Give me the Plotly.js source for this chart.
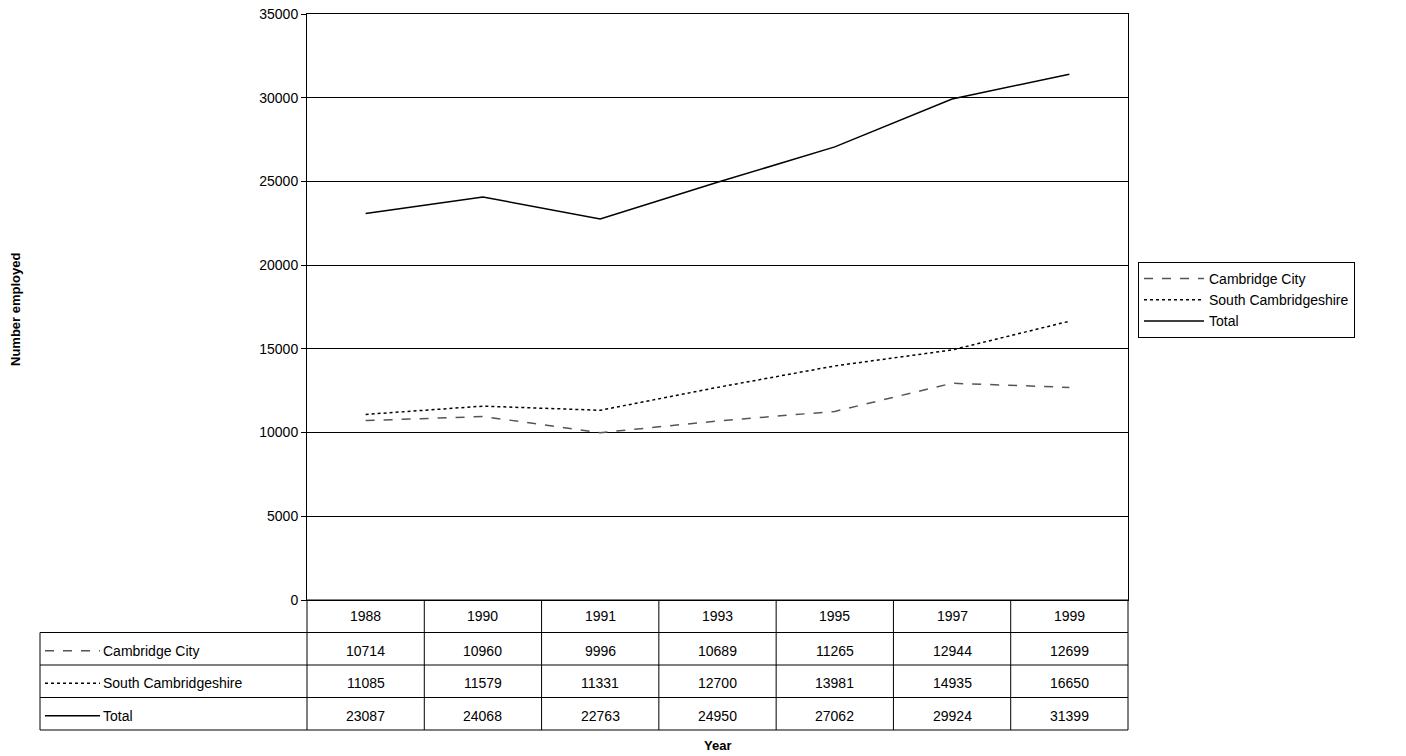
<!DOCTYPE html>
<html><head><script src="https://cdn.plot.ly/plotly-3.0.1.min.js"></script>
<style>body{margin:0;background:#fff}</style></head>
<body><div id="c" style="width:1406px;height:756px"></div>
<script>
const years = ["1988","1990","1991","1993","1995","1997","1999"];
const cambridgeCity = [10714,10960,9996,10689,11265,12944,12699];
const southCambs = [11085,11579,11331,12700,13981,14935,16650];
const total = [23087,24068,22763,24950,27062,29924,31399];
const seriesNames = ["Cambridge City","South Cambridgeshire","Total"];
const seriesVals = [cambridgeCity, southCambs, total];
const dashes = ["dash","dot","solid"];
const colors = ["#555555","#000000","#000000"];

const L=307,R=1128,T=14,B=600,W=R-L,H=B-T;
const px=x=>(x-L)/W, py=y=>(B-y)/H;
const font={family:"Liberation Sans, Arial",size:14,color:"#000"};
const traces = seriesVals.map((v,i)=>({x:years,y:v,name:seriesNames[i],type:"scatter",mode:"lines",
  line:{color:colors[i],dash:dashes[i],width:1.5}}));
const shapes=[], ann=[];
const rowH=32.5, colW=W/years.length;
const rowYs=[B,B+rowH,B+2*rowH,B+3*rowH,B+4*rowH];
rowYs.forEach((y,i)=>shapes.push({type:"line",xref:"paper",yref:"paper",x0:px(i==0?L:40),x1:px(R),y0:py(y),y1:py(y),line:{color:"#000",width:1}}));
for(let i=0;i<=years.length;i++){const x=L+i*colW;
  shapes.push({type:"line",xref:"paper",yref:"paper",x0:px(x),x1:px(x),y0:py(B),y1:py(rowYs[4]),line:{color:"#000",width:1}});}
shapes.push({type:"line",xref:"paper",yref:"paper",x0:px(40),x1:px(40),y0:py(rowYs[1]),y1:py(rowYs[4]),line:{color:"#000",width:1}});
const A=(x,y,text,extra)=>Object.assign({xref:"paper",yref:"paper",x,y,text,showarrow:false,xanchor:"center",yanchor:"middle",font},extra||{});
years.forEach((yr,j)=>{const xc=px(L+(j+0.5)*colW);
  ann.push(A(xc,py(B+rowH/2),yr));
  seriesVals.forEach((v,i)=>ann.push(A(xc,py(rowYs[i+1]+rowH/2+2),String(v[j]))));
});
seriesNames.forEach((n,i)=>{const yc=py(rowYs[i+1]+rowH/2+2);
  shapes.push({type:"line",xref:"paper",yref:"paper",x0:px(45),x1:px(100),y0:yc,y1:yc,line:{color:colors[i],dash:dashes[i],width:1.5}});
  ann.push(A(px(101),yc,n,{xanchor:"left"}));
});
ann.push(A(px(15),py(310),"<b>Number employed</b>",{textangle:-90,font:{...font,size:13}}));
ann.push(A(px(717),py(745),"<b>Year</b>",{font:{...font,size:13}}));
Plotly.newPlot("c",traces,{width:1406,height:756,margin:{l:L,r:1406-R,t:T,b:756-B},
  paper_bgcolor:"#fff",plot_bgcolor:"#fff",font,showlegend:true,
  legend:{x:px(1138),y:py(262),xanchor:"left",yanchor:"top",bordercolor:"#000",borderwidth:1,font,tracegroupgap:0,itemwidth:60},
  xaxis:{type:"category",range:[-0.5,6.5],showticklabels:false,ticks:"",showgrid:false,showline:true,mirror:true,linecolor:"#000",zeroline:false},
  yaxis:{range:[0,35000],dtick:5000,tickformat:"d",showgrid:true,gridcolor:"#000",gridwidth:1,showline:true,mirror:true,linecolor:"#000",ticks:"outside",ticklen:5,tickcolor:"#000",zeroline:false},
  shapes,annotations:ann},{staticPlot:true});
</script></body></html>
